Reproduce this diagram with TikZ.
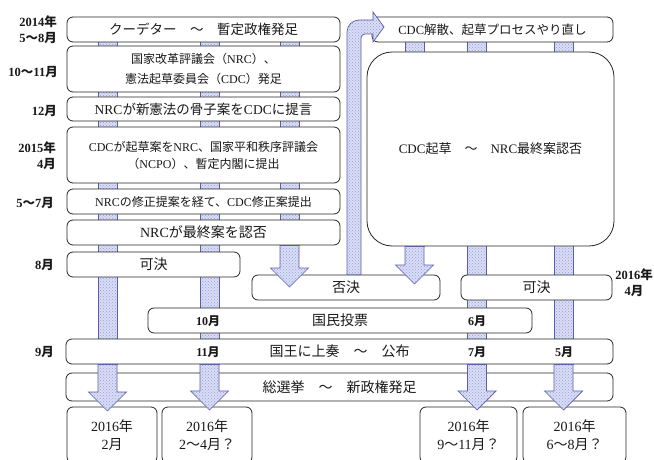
\documentclass[tikz,border=0pt]{standalone}
\usepackage{fontspec}
\setmainfont{Liberation Serif}
\newfontfamily\cjkfont{Noto Sans CJK JP}
\usetikzlibrary{patterns,calc}
\XeTeXinterchartokenstate=1
\newXeTeXintercharclass\cjkcls
\makeatletter
\count@="3000
\loop\ifnum\count@<"A000 \XeTeXcharclass\count@=\cjkcls \advance\count@ by 1 \repeat
\count@="FF00
\loop\ifnum\count@<"FFF0 \XeTeXcharclass\count@=\cjkcls \advance\count@ by 1 \repeat
\makeatother
\XeTeXinterchartoks 0 \cjkcls = {\cjkfont}
\XeTeXinterchartoks 4095 \cjkcls = {\cjkfont}
\XeTeXinterchartoks \cjkcls 0 = {\rmfamily}
\XeTeXinterchartoks \cjkcls 4095 = {\rmfamily}
\definecolor{pipefill}{RGB}{218,221,246}
\definecolor{pipedot}{RGB}{150,158,215}
\definecolor{pipeline}{RGB}{90,95,170}
\definecolor{txt}{RGB}{25,25,25}
\newcommand\fs[1]{\fontsize{#1}{#1pt}\selectfont}
\tikzset{
  box/.style={draw=black!85, line width=0.8pt, fill=white, rounded corners=6pt,
    inner sep=0pt, text=txt, align=center},
  pipe/.style={draw=pipeline, line width=0.7pt, preaction={fill=pipefill},
    pattern=crosshatch dots, pattern color=pipedot},
  lbl/.style={font=\bfseries\fontsize{12.5}{16}\selectfont, text=txt, inner sep=0pt},
  mlbl/.style={font=\bfseries\fontsize{12}{14}\selectfont, text=txt, inner sep=0pt},
}
\newcommand\shaft[3]{\path[pipe] ($(#1 |- #2)+(-9.5,0)$) rectangle ($(#1 |- #3)+(9.5,0)$);}
\newcommand\headarrow[3]{\path[pipe] ($(#1 |- #2)+(-9.5,0)$) -- ($(#1 |- #3)+(-9.5,-19)$)
  -- ($(#1 |- #3)+(-19,-19)$) -- (#1 |- #3) -- ($(#1 |- #3)+(19,-19)$)
  -- ($(#1 |- #3)+(9.5,-19)$) -- ($(#1 |- #2)+(9.5,0)$) -- cycle;}
\begin{document}
\begin{tikzpicture}[x=1pt,y=-1pt]
\useasboundingbox (0,0) rectangle (654,460);
\begin{scope}
\clip (0,0) rectangle (654,460);
% pipe columns and arrow tips
\coordinate (c1) at (107.5,0);
\coordinate (c2) at (209.5,0);
\coordinate (c3) at (289.5,0);
\coordinate (c5) at (414.5,0);
\coordinate (c6) at (477,0);
\coordinate (c7) at (563.5,0);
\coordinate (t1) at (107.5,411);
\coordinate (t2) at (209.5,410);
\coordinate (t3) at (289.5,287);
\coordinate (t5) at (414.5,284);
\coordinate (t6) at (477,410);
\coordinate (t7) at (563.5,410);
% anchors for the background pipes
\path (203.5,29.5) coordinate (b1c) (492.5,29.5) coordinate (r1c);
\path (339.5,364) coordinate (b11s) (203.5,245) coordinate (b6s) (490.5,246) coordinate (r2s);
% background shafts
\shaft{c1}{b1c}{b11s}
\shaft{c2}{b1c}{b11s}
\shaft{c3}{b1c}{b6s}
\shaft{c5}{r1c}{r2s}
\shaft{c6}{r1c}{b11s}
\shaft{c7}{r1c}{b11s}
% boxes
\node[box, minimum width=273pt, minimum height=25pt, font=\fs{13.5}] (b1) at (203.5,29.5) {クーデター　～　暫定政権発足};
\node[box, minimum width=273pt, minimum height=46pt, font=\fontsize{12}{20}\selectfont] (b2) at (203.5,69) {国家改革評議会（NRC）、\\憲法起草委員会（CDC）発足};
\node[box, minimum width=273pt, minimum height=24pt, font=\fs{13.5}] (b3) at (203.5,109) {NRCが新憲法の骨子案をCDCに提言};
\node[box, minimum width=273pt, minimum height=56pt, font=\fontsize{12}{17}\selectfont] (b4) at (203.5,155) {CDCが起草案をNRC、国家平和秩序評議会\\（NCPO）、暫定内閣に提出};
\node[box, minimum width=273pt, minimum height=25pt, font=\fs{12}] (b5) at (203.5,201.5) {NRCの修正提案を経て、CDC修正案提出};
\node[box, minimum width=273pt, minimum height=25pt, font=\fs{14}] (b6) at (203.5,232.5) {NRCが最終案を認否};
\node[box, minimum width=173pt, minimum height=25pt, font=\fs{14}] (b7) at (153.5,264.5) {可決};
\node[box, minimum width=188pt, minimum height=25pt, font=\fs{14}] (b8) at (346,287.5) {否決};
\node[box, minimum width=151pt, minimum height=25pt, font=\fs{14}] (b9) at (536.5,287.5) {可決};
\node[box, minimum width=384pt, minimum height=25pt, font=\fs{14}] (b10) at (340,320.5) {国民投票};
\node[box, minimum width=547pt, minimum height=25pt, font=\fs{14}] (b11) at (339.5,351.5) {国王に上奏　～　公布};
\node[box, minimum width=547pt, minimum height=28pt, font=\fs{14}] (b12) at (339.5,387) {総選挙　～　新政権発足};
\node[box, minimum width=90pt, minimum height=56pt, font=\fontsize{14}{18}\selectfont] (b13) at (112,435) {2016年\\2月};
\node[box, minimum width=90pt, minimum height=56pt, font=\fontsize{14}{18}\selectfont] (b14) at (207,435) {2016年\\2～4月？};
\node[box, minimum width=97pt, minimum height=56pt, font=\fontsize{14}{18}\selectfont] (b15) at (468.5,435) {2016年\\9～11月？};
\node[box, minimum width=103pt, minimum height=56pt, font=\fontsize{14}{18}\selectfont] (b16) at (574.5,435) {2016年\\6～8月？};
\node[box, minimum width=241pt, minimum height=25pt, font=\fs{12.5}] (r1) at (492.5,29.5) {CDC解散、起草プロセスやり直し};
\node[box, rounded corners=25pt, minimum width=247pt, minimum height=194pt, font=\fs{13}] (r2) at (490.5,149) {CDC起草　～　NRC最終案認否};
% foreground arrows
\headarrow{c3}{b6.south}{t3}
\headarrow{c5}{r2.south}{t5}
\headarrow{c1}{b11.south}{t1}
\headarrow{c2}{b11.south}{t2}
\headarrow{c6}{b11.south}{t6}
\headarrow{c7}{b11.south}{t7}
% bent arrow from rejection back to restart
\path[pipe] (347,0 |- b8.north) -- (347,32) .. controls (347,25.4) and (352.4,20) .. (359,20)
  -- (373,20) -- (373,12) -- (384,27) -- (373,42) -- (373,34) -- (365,34)
  .. controls (362.8,34) and (361,35.8) .. (361,38) -- (361,0 |- b8.north) -- cycle;
% month labels inside boxes
\node[mlbl] (m10) at (208,321) {10月};
\node[mlbl] (m6) at (477,321) {6月};
\node[mlbl] (m11) at (208,352) {11月};
\node[mlbl] (m7) at (477,352) {7月};
\node[mlbl] (m5) at (564,352) {5月};
% left date labels
\node[lbl, anchor=east, align=right] (d1) at (57,29.5) {2014年\\5～8月};
\node[lbl, anchor=east] (d2) at (58,72) {10～11月};
\node[lbl, anchor=east] (d3) at (57,111) {12月};
\node[lbl, anchor=east, align=right] (d4) at (56,155.5) {2015年\\4月};
\node[lbl, anchor=east] (d5) at (54,203) {5～7月};
\node[lbl, anchor=east] (d6) at (54,265) {8月};
\node[lbl, anchor=east] (d7) at (54,352) {9月};
\node[lbl, align=center] (d8) at (634,282.5) {2016年\\4月};
\end{scope}
\end{tikzpicture}
\end{document}
